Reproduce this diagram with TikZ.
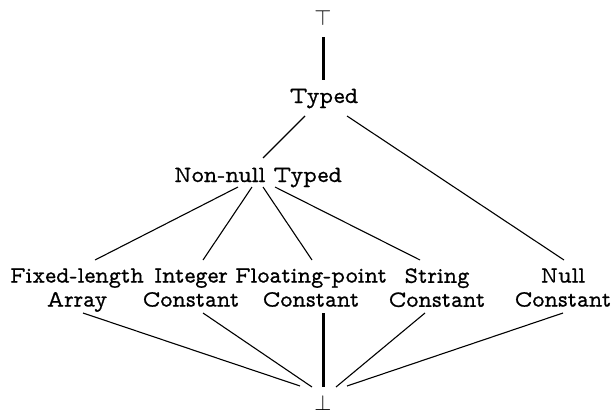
\documentclass[tikz,border=0pt]{standalone}
\usepackage{fontspec}
\newfontfamily\vttfont{lmmonoprop10-regular.otf}[FakeBold=0.8]
\usetikzlibrary{calc}
\begin{document}
\begin{tikzpicture}[x=0.5pt,y=-0.5pt,
  lbl/.style={inner sep=0pt, font={\fontsize{11.6}{12}\vttfont}},
  sym/.style={inner sep=0pt, font={\fontsize{11.4}{12}\selectfont}},
  lbl2/.style={lbl, align=center, anchor=north},
  edge/.style={line width=0.55pt},
  heavy/.style={line width=1.5pt}]
\useasboundingbox (0,0) rectangle (611,412);
\node[sym] (top) at (323,17.5) {$\top$};
\node[lbl, anchor=base] (typed) at (324,103) {Typed};
\node[lbl, anchor=base] (nn) at (258,182) {Non-null Typed};
\node[lbl2] (fix) at (77,268) {Fixed-length\\Array};
\node[lbl2] (int) at (191,268) {Integer\\Constant};
\node[lbl2] (flt) at (311,268) {Floating-point\\Constant};
\node[lbl2] (str) at (437,268) {String\\Constant};
\node[lbl2] (nul) at (563,268) {Null\\Constant};
\node[sym] (bot) at (323,402.5) {$\perp$};
% top part
\draw[heavy] ($(top.center)+(0,19.5)$) -- ($(typed.base)+(-1,-23)$);
\draw[edge] ($(typed.base)+(-19,13)$) -- ($(nn.base)+(5,-24)$);
\draw[edge] ($(typed.base)+(23,13)$) -- ($(nul.north)+(1,-8)$);
% non-null fan
\draw[edge] ($(nn.base)+(-20,5)$) -- ($(fix.north)+(18,-8)$);
\draw[edge] ($(nn.base)+(-6,5)$) -- ($(int.north)+(12,-8)$);
\draw[edge] ($(nn.base)+(5,5)$) -- ($(flt.north)+(1,-8)$);
\draw[edge] ($(nn.base)+(17,5)$) -- ($(str.north)+(-17,-8)$);
% bottom fan
\draw[edge] ($(fix.north)+(6,45)$) -- ($(bot.center)+(-23,-16.5)$);
\draw[edge] ($(int.north)+(12,45)$) -- ($(bot.center)+(-11,-15.5)$);
\draw[heavy] ($(flt.north)+(12,45)$) -- ($(bot.center)+(0,-15.5)$);
\draw[edge] ($(str.north)+(-12,45)$) -- ($(bot.center)+(13,-15.5)$);
\draw[edge] ($(nul.north)+(0,45)$) -- ($(bot.center)+(24,-16.5)$);
\end{tikzpicture}
\end{document}
